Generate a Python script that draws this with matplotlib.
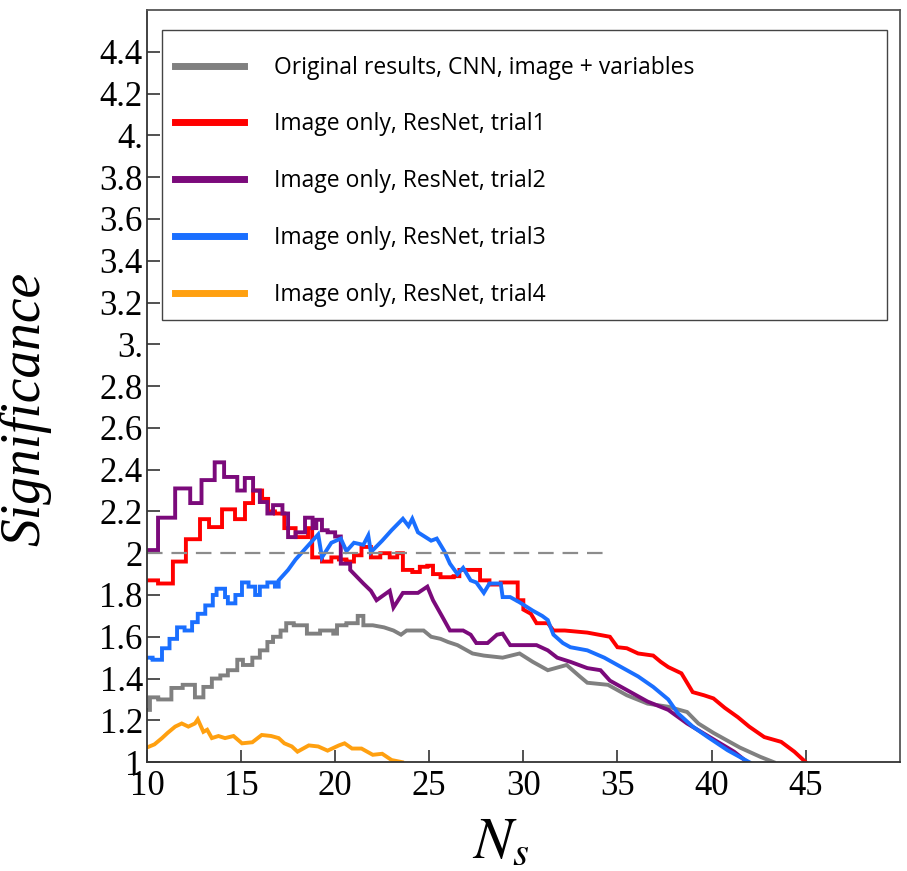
import matplotlib.pyplot as plt
from matplotlib.patches import Rectangle

plt.rcParams['mathtext.fontset'] = 'stix'

# data
x_orig = [10.0, 10.16, 10.6, 11.3, 11.9, 12.55, 13.0, 13.45, 13.9, 14.3, 14.8, 15.1, 15.6, 16.0, 16.4,
          16.7, 17.1, 17.4, 17.8, 18.5, 19.2, 19.9, 20.1, 20.6, 21.2, 21.5, 22.0, 22.6, 23.1, 23.5,
          23.8, 24.7, 25.1, 25.6, 26.0, 26.5, 27.3, 27.9, 28.9, 29.8, 30.5, 31.3, 32.3, 33.0, 33.4,
          34.5, 35.5, 36.6, 37.7, 38.7, 39.3, 40.1, 41.5, 42.6, 43.3]
y_orig = [1.25, 1.31, 1.30, 1.355, 1.37, 1.31, 1.36, 1.40, 1.415, 1.44, 1.49, 1.465, 1.50, 1.535, 1.575,
          1.60, 1.63, 1.665, 1.655, 1.615, 1.63, 1.615, 1.655, 1.665, 1.70, 1.655, 1.655, 1.645, 1.63, 1.61,
          1.63, 1.63, 1.60, 1.59, 1.575, 1.56, 1.52, 1.51, 1.50, 1.52, 1.48, 1.44, 1.465, 1.41, 1.38,
          1.37, 1.32, 1.28, 1.265, 1.24, 1.185, 1.14, 1.07, 1.025, 1.0]

x_trial1 = [10.0, 10.59, 11.38, 12.07, 12.82, 13.30, 13.99, 14.68, 15.21, 15.64, 16.12, 16.44, 16.8, 17.3,
            17.9, 18.56, 18.78, 19.3, 19.8, 20.2, 20.6, 21.0, 21.4, 21.9, 22.4, 22.9, 23.3, 23.6, 24.1,
            24.5, 24.9, 25.2, 25.6, 26.3, 26.6, 27.2, 27.7, 28.2, 28.8, 29.3, 29.7, 30.0, 30.4, 30.7,
            31.3, 31.6, 32.2, 32.8, 33.4, 34.0, 34.6, 35.0, 35.5, 36.1, 36.9, 37.3, 37.7, 38.4, 39.0,
            39.6, 40.1, 40.7, 41.4, 42.0, 42.8, 43.7, 44.4, 45.0]
y_trial1 = [1.87, 1.855, 1.96, 2.067, 2.163, 2.125, 2.21, 2.163, 2.24, 2.30, 2.26, 2.20, 2.19, 2.12,
            2.077, 2.12, 1.98, 1.96, 1.98, 1.97, 1.96, 1.99, 2.03, 1.98, 2.0, 1.98, 2.0, 1.92, 1.91,
            1.935, 1.94, 1.90, 1.885, 1.89, 1.92, 1.92, 1.87, 1.85, 1.86, 1.86, 1.775, 1.73, 1.71, 1.665,
            1.665, 1.63, 1.63, 1.625, 1.62, 1.61, 1.60, 1.55, 1.545, 1.52, 1.51, 1.48, 1.455, 1.425, 1.335,
            1.32, 1.305, 1.26, 1.215, 1.17, 1.12, 1.097, 1.05, 1.0]

x_trial2 = [10.0, 10.59, 11.5, 12.3, 12.9, 13.6, 14.1, 14.8, 15.2, 15.64, 16.0, 16.4, 16.7, 17.2, 17.5,
            17.9, 18.4, 18.8, 19.0, 19.3, 19.6, 20.0, 20.3, 20.8, 21.5, 21.9, 22.2, 22.9, 23.1, 23.6,
            24.4, 24.9, 25.2, 25.7, 26.1, 26.8, 27.2, 27.5, 28.1, 28.6, 28.9, 29.3, 29.8, 30.7, 31.3,
            31.8, 32.5, 33.4, 34.1, 34.6, 35.5, 36.6, 37.7, 38.7, 39.9, 41.2, 41.9]
y_trial2 = [2.015, 2.17, 2.31, 2.24, 2.35, 2.435, 2.365, 2.30, 2.36, 2.30, 2.245, 2.19, 2.23, 2.19, 2.077,
            2.10, 2.17, 2.12, 2.16, 2.11, 2.10, 2.08, 1.95, 1.92, 1.855, 1.82, 1.775, 1.82, 1.74, 1.81,
            1.81, 1.84, 1.775, 1.695, 1.63, 1.63, 1.61, 1.57, 1.57, 1.61, 1.615, 1.56, 1.56, 1.56, 1.535,
            1.50, 1.48, 1.45, 1.44, 1.39, 1.345, 1.29, 1.25, 1.185, 1.12, 1.05, 1.0]

x_trial3 = [10.0, 10.3, 10.8, 11.2, 11.6, 12.0, 12.4, 12.7, 13.1, 13.5, 13.7, 14.15, 14.3, 14.7, 15.05,
            15.4, 15.75, 16.0, 16.4, 16.8, 17.0, 17.5, 17.9, 18.5, 19.1, 19.3, 19.8, 20.3, 20.6, 21.0,
            21.5, 21.76, 21.9, 22.5, 23.0, 23.6, 23.9, 24.1, 24.4, 25.1, 25.4, 25.8, 26.1, 26.5, 26.8,
            27.2, 27.5, 27.9, 28.2, 28.8, 28.9, 29.3, 29.8, 30.5, 31.0, 31.3, 31.6, 32.1, 32.5, 33.4,
            34.3, 35.2, 36.1, 36.9, 37.7, 38.2, 39.0, 39.8, 40.85, 42.0]
y_trial3 = [1.50, 1.49, 1.545, 1.59, 1.645, 1.63, 1.67, 1.71, 1.75, 1.80, 1.83, 1.79, 1.76, 1.80, 1.86,
            1.84, 1.80, 1.84, 1.86, 1.84, 1.87, 1.92, 1.97, 2.03, 2.09, 1.98, 2.05, 2.07, 2.01, 2.05,
            2.04, 2.085, 2.005, 2.06, 2.11, 2.165, 2.13, 2.165, 2.10, 2.06, 2.07, 2.01, 1.95, 1.90, 1.93,
            1.87, 1.86, 1.81, 1.855, 1.855, 1.79, 1.79, 1.765, 1.725, 1.70, 1.68, 1.61, 1.57, 1.55, 1.535,
            1.50, 1.455, 1.41, 1.36, 1.30, 1.235, 1.17, 1.12, 1.057, 1.0]

x_trial4 = [10.0, 10.4, 10.8, 11.1, 11.5, 11.85, 12.2, 12.55, 12.7, 13.0, 13.2, 13.45, 13.8, 14.15, 14.6,
            15.05, 15.6, 16.1, 16.6, 17.0, 17.3, 17.7, 18.0, 18.6, 19.1, 19.6, 20.2, 20.5, 20.9, 21.4,
            22.0, 22.5, 23.0, 23.55]
y_trial4 = [1.07, 1.085, 1.115, 1.14, 1.17, 1.185, 1.17, 1.185, 1.205, 1.145, 1.155, 1.115, 1.125, 1.115, 1.125,
            1.09, 1.095, 1.13, 1.125, 1.115, 1.09, 1.075, 1.05, 1.08, 1.075, 1.055, 1.08, 1.09, 1.065, 1.065,
            1.035, 1.04, 1.01, 1.0]

labels = ['Original results, CNN, image + variables',
          'Image only, ResNet, trial1',
          'Image only, ResNet, trial2',
          'Image only, ResNet, trial3',
          'Image only, ResNet, trial4']
colors = ['#808080', '#ff0000', '#7b0a7b', '#1a6fff', '#ffa010']
step_until = [22.0, 30.0, 21.0, 17.0, 0.0]   # curves are staircases at low N_s

threshold = 2.0
threshold_end = 34.3

yticks = [1, 1.2, 1.4, 1.6, 1.8, 2, 2.2, 2.4, 2.6, 2.8, 3, 3.2, 3.4, 3.6, 3.8, 4, 4.2, 4.4]
ytick_labels = ['1', '1.2', '1.4', '1.6', '1.8', '2', '2.2', '2.4', '2.6', '2.8',
                '3.', '3.2', '3.4', '3.6', '3.8', '4.', '4.2', '4.4']
xticks = [10, 15, 20, 25, 30, 35, 40, 45]


def stair(x, y, until):
    # steps-post up to `until`, straight segments after
    xs, ys = [], []
    for i in range(len(x)):
        if i > 0 and x[i] <= until:
            xs.append(x[i])
            ys.append(y[i - 1])
        xs.append(x[i])
        ys.append(y[i])
    return xs, ys


fig = plt.figure(figsize=(9.07, 8.71), dpi=100)
ax = fig.add_axes([0.162, 0.125, 0.830, 0.8635])

series = [(x_orig, y_orig), (x_trial1, y_trial1), (x_trial2, y_trial2),
          (x_trial3, y_trial3), (x_trial4, y_trial4)]
for (xs, ys), lab, c, until in zip(series, labels, colors, step_until):
    px, py = stair(xs, ys, until)
    ax.plot(px, py, color=c, lw=2.8, label=lab, solid_joinstyle='miter')

ax.plot([10, threshold_end], [threshold, threshold], color='#8c8c8c', lw=1.6, dashes=(7, 4))

ax.set_xlim(10, 50)
ax.set_ylim(1, 4.6)
ax.set_xticks(xticks)
ax.set_xticklabels([str(t) for t in xticks], family='Liberation Serif', fontsize=25)
ax.set_yticks(yticks)
ax.set_yticklabels(ytick_labels, family='Liberation Serif', fontsize=25)
ax.tick_params(direction='in', length=9, width=1.2, color='#333333', top=False, right=False)
ax.tick_params(axis='x', pad=6)
ax.tick_params(axis='y', pad=3)

for s in ax.spines.values():
    s.set_color('#555555')
    s.set_linewidth(1.3)
ax.spines['left'].set_color('#333333')
ax.spines['bottom'].set_color('#333333')

ax.set_ylabel('Significance', family='Liberation Serif', style='italic', fontsize=40)
ax.yaxis.set_label_coords(-0.127, 0.47)
ax.set_xlabel('$N_s$', fontsize=42, math_fontfamily='stix')
ax.xaxis.set_label_coords(0.47, -0.068)

# legend without frame, box drawn separately
leg = ax.legend(loc='upper left', bbox_to_anchor=(0.020, 0.956),
                prop={'family': 'Open Sans', 'size': 16.5}, frameon=False,
                borderpad=0.55, labelspacing=1.43, handlelength=3.05,
                handletextpad=1.3, borderaxespad=0)
for line in leg.get_lines():
    line.set_linewidth(5)
ax.add_patch(Rectangle((0.020, 0.588), 0.963, 0.385, transform=ax.transAxes,
                       fill=False, edgecolor='#444444', lw=1.0, zorder=5))

fig.savefig('out.png', dpi=100)
